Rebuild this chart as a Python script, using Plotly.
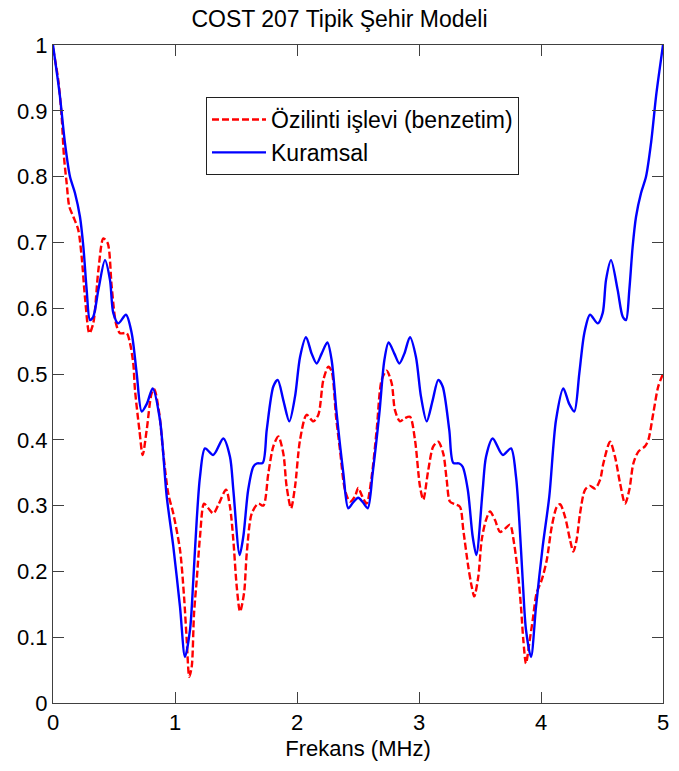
import plotly.graph_objects as go

# Frequency axis (MHz) and values
freq_sim = [0.0, 0.043, 0.071, 0.09, 0.112, 0.134, 0.167, 0.207, 0.235, 0.262, 0.298, 0.33, 0.372, 0.413,
            0.448, 0.481, 0.516, 0.549, 0.604, 0.631, 0.658, 0.672, 0.708, 0.735, 0.768, 0.809, 0.83, 0.871,
            0.904, 0.945, 0.986, 1.041, 1.074, 1.096, 1.117, 1.137, 1.156, 1.178, 1.205, 1.238, 1.273, 1.314,
            1.355, 1.418, 1.451, 1.478, 1.506, 1.533, 1.566, 1.588, 1.629, 1.683, 1.724, 1.765, 1.806, 1.847,
            1.888, 1.915, 1.951, 1.984, 2.025, 2.079, 2.134, 2.175, 2.216, 2.257, 2.284, 2.32, 2.352, 2.393,
            2.434, 2.475, 2.502, 2.53, 2.57, 2.612, 2.653, 2.694, 2.735, 2.776, 2.803, 2.844, 2.885, 2.926,
            2.967, 3.008, 3.035, 3.076, 3.117, 3.158, 3.199, 3.227, 3.254, 3.295, 3.336, 3.363, 3.404, 3.432,
            3.453, 3.486, 3.514, 3.549, 3.582, 3.623, 3.664, 3.705, 3.746, 3.779, 3.814, 3.836, 3.855, 3.877,
            3.904, 3.932, 3.964, 4.006, 4.047, 4.088, 4.129, 4.156, 4.197, 4.238, 4.265, 4.292, 4.32, 4.361,
            4.402, 4.443, 4.484, 4.511, 4.566, 4.607, 4.648, 4.689, 4.724, 4.757, 4.798, 4.852, 4.88, 4.92,
            4.961, 5.0]
corr_sim = [0.995, 0.947, 0.891, 0.830, 0.790, 0.754, 0.739, 0.719, 0.678, 0.617, 0.562, 0.577, 0.658, 0.706,
            0.699, 0.633, 0.577, 0.562, 0.562, 0.547, 0.516, 0.476, 0.415, 0.377, 0.415, 0.471, 0.477, 0.440,
            0.379, 0.318, 0.288, 0.233, 0.162, 0.096, 0.040, 0.055, 0.136, 0.187, 0.253, 0.303, 0.296, 0.288,
            0.301, 0.324, 0.298, 0.248, 0.177, 0.139, 0.167, 0.227, 0.288, 0.303, 0.300, 0.349, 0.390, 0.405,
            0.379, 0.329, 0.296, 0.329, 0.400, 0.438, 0.428, 0.438, 0.491, 0.511, 0.504, 0.435, 0.385, 0.324,
            0.306, 0.314, 0.327, 0.316, 0.303, 0.344, 0.415, 0.491, 0.505, 0.486, 0.445, 0.428, 0.433, 0.435,
            0.400, 0.329, 0.309, 0.354, 0.390, 0.397, 0.379, 0.339, 0.306, 0.302, 0.298, 0.263, 0.207, 0.177,
            0.162, 0.192, 0.248, 0.278, 0.291, 0.278, 0.260, 0.265, 0.271, 0.243, 0.192, 0.146, 0.096, 0.060,
            0.091, 0.126, 0.167, 0.187, 0.217, 0.268, 0.298, 0.302, 0.283, 0.248, 0.230, 0.248, 0.288, 0.324,
            0.330, 0.326, 0.339, 0.364, 0.397, 0.374, 0.334, 0.303, 0.324, 0.364, 0.382, 0.390, 0.400, 0.440,
            0.481, 0.500]

freq_th = [0.0, 0.03, 0.057, 0.098, 0.139, 0.18, 0.221, 0.249, 0.276, 0.303, 0.33, 0.372, 0.426, 0.467,
           0.494, 0.535, 0.598, 0.645, 0.686, 0.727, 0.77, 0.817, 0.877, 0.932, 0.986, 1.041, 1.082, 1.123,
           1.15, 1.178, 1.205, 1.246, 1.314, 1.396, 1.451, 1.478, 1.53, 1.56, 1.6, 1.642, 1.67, 1.719, 1.752,
           1.806, 1.842, 1.888, 1.937, 1.984, 2.025, 2.074, 2.12, 2.161, 2.202, 2.249, 2.284, 2.325, 2.38,
           2.42, 2.46, 2.502, 2.54, 2.58, 2.62, 2.675, 2.716, 2.751, 2.798, 2.839, 2.88, 2.926, 2.975, 3.016,
           3.063, 3.112, 3.158, 3.194, 3.248, 3.281, 3.33, 3.358, 3.40, 3.44, 3.47, 3.522, 3.549, 3.604,
           3.686, 3.754, 3.795, 3.822, 3.85, 3.877, 3.918, 3.959, 4.014, 4.068, 4.123, 4.183, 4.23, 4.273,
           4.314, 4.355, 4.402, 4.465, 4.506, 4.533, 4.574, 4.628, 4.67, 4.697, 4.724, 4.751, 4.779, 4.82,
           4.861, 4.902, 4.943, 4.97, 5.0]
corr_th = [1.0, 0.96, 0.922, 0.851, 0.800, 0.775, 0.739, 0.693, 0.628, 0.582, 0.587, 0.628, 0.673, 0.643,
           0.593, 0.577, 0.590, 0.562, 0.501, 0.443, 0.455, 0.478, 0.430, 0.314, 0.238, 0.146, 0.070, 0.111,
           0.187, 0.278, 0.344, 0.387, 0.377, 0.402, 0.374, 0.324, 0.225, 0.253, 0.324, 0.359, 0.364, 0.365,
           0.415, 0.481, 0.491, 0.460, 0.428, 0.466, 0.526, 0.556, 0.531, 0.516, 0.531, 0.548, 0.521, 0.440,
           0.349, 0.296, 0.305, 0.312, 0.305, 0.296, 0.349, 0.440, 0.521, 0.548, 0.531, 0.516, 0.531, 0.556,
           0.526, 0.466, 0.428, 0.460, 0.491, 0.481, 0.415, 0.365, 0.364, 0.359, 0.324, 0.253, 0.225, 0.324,
           0.374, 0.402, 0.377, 0.387, 0.344, 0.278, 0.187, 0.111, 0.070, 0.146, 0.238, 0.314, 0.430, 0.478,
           0.455, 0.443, 0.501, 0.562, 0.590, 0.577, 0.593, 0.643, 0.673, 0.628, 0.587, 0.582, 0.628, 0.693,
           0.739, 0.775, 0.800, 0.851, 0.922, 0.96, 1.0]

x_ticks = [0, 1, 2, 3, 4, 5]
y_ticks = [0, 0.1, 0.2, 0.3, 0.4, 0.5, 0.6, 0.7, 0.8, 0.9, 1]
y_tick_text = ["0", "0.1", "0.2", "0.3", "0.4", "0.5", "0.6", "0.7", "0.8", "0.9", "1"]

FONT = "Liberation Sans, Arial, sans-serif"
AX = "#404040"

fig = go.Figure()
fig.add_trace(go.Scatter(x=freq_sim, y=corr_sim, mode="lines", name="Özilinti işlevi (benzetim)",
                         line=dict(color="#ff0000", width=2.4, dash="7px,3px", shape="spline", smoothing=0.8)))
fig.add_trace(go.Scatter(x=freq_th, y=corr_th, mode="lines", name="Kuramsal",
                         line=dict(color="#0000ff", width=2.4, shape="spline", smoothing=0.8)))

fig.update_layout(
    width=679, height=771,
    margin=dict(l=53, r=16, t=45, b=68),
    paper_bgcolor="white", plot_bgcolor="white",
    font=dict(family=FONT, size=22, color="black"),
    title=dict(text="COST 207 Tipik Şehir Modeli", x=0.5, xref="container", xanchor="center",
               y=1 - 19 / 771, yref="container", yanchor="middle", font=dict(size=23)),
    showlegend=True,
    legend=dict(x=(206 - 53) / 610, y=(703 - 97) / 658, xanchor="left", yanchor="top",
                bgcolor="white", bordercolor="#202020", borderwidth=1,
                font=dict(size=23), itemwidth=54, tracegroupgap=0),
    xaxis=dict(range=[0, 5], tickvals=x_ticks, ticks="inside", ticklen=11, tickcolor=AX,
               showline=True, linecolor=AX, linewidth=1, mirror="ticks", showgrid=False, zeroline=False,
               title=dict(text="Frekans (MHz)", standoff=6, font=dict(size=22)),
               tickfont=dict(size=22), automargin=False),
    yaxis=dict(range=[0, 1], tickvals=y_ticks, ticktext=y_tick_text, ticks="inside", ticklen=11,
               tickcolor=AX, showline=True, linecolor=AX, linewidth=1, mirror="ticks", showgrid=False,
               zeroline=False, tickfont=dict(size=22), automargin=False),
)

fig.write_html("out.html")
